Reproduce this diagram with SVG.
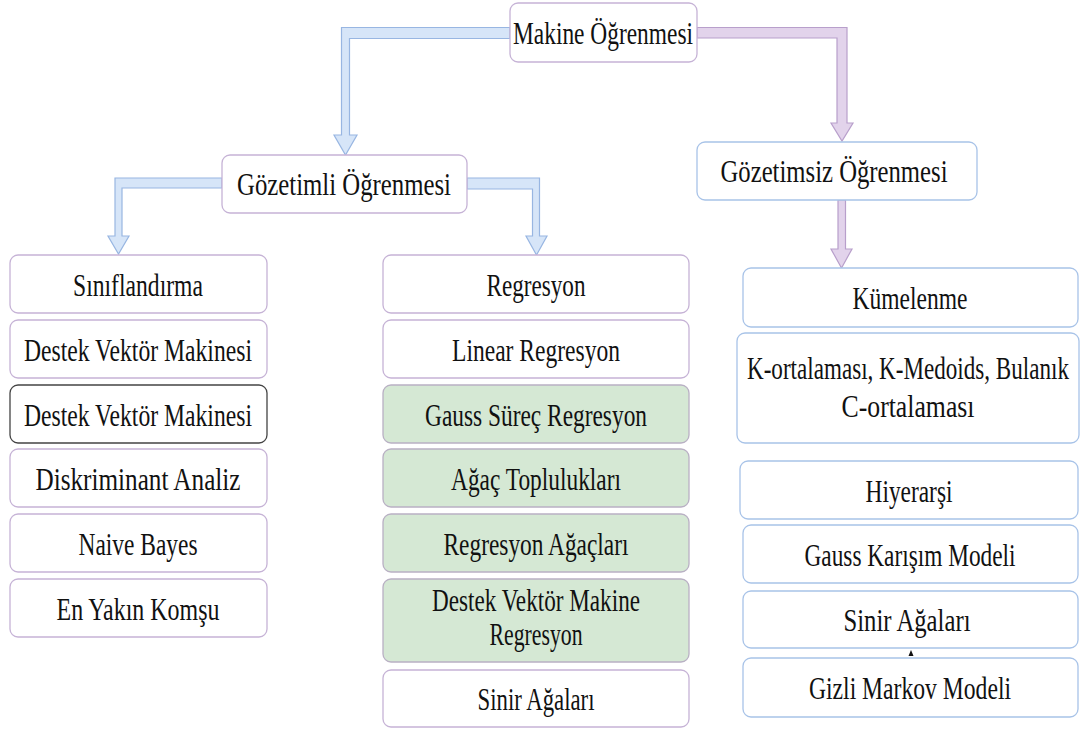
<svg xmlns="http://www.w3.org/2000/svg" width="1084" height="729" viewBox="0 0 1084 729">
<style>
.bp{fill:#fff;stroke:#c6b3d6;stroke-width:1.3}
.bb{fill:#fff;stroke:#a8c3e8;stroke-width:1.3}
.bg{fill:#d5e8d4;stroke:#b9b0c4;stroke-width:1.3}
.bk{fill:#fff;stroke:#444;stroke-width:1.3}
.cb{fill:#d6e5f8;stroke:#98b6e2;stroke-width:1.2}
.cp{fill:#e2d3eb;stroke:#b89fcb;stroke-width:1.2}
text{font-family:"Liberation Serif","Times New Roman","DejaVu Serif",serif;font-size:32px;fill:#111;text-anchor:middle}
</style>
<rect width="1084" height="729" fill="#fff"/>
<g id="connectors">
<polygon class="cb" points="510,27.5 341.5,27.5 341.5,135 334,135 345.5,155 357,135 349.5,135 349.5,38.5 510,38.5"/>
<polygon class="cp" points="697,27.5 847,27.5 847,123 853,123 842,141 831,123 837,123 837,38 697,38"/>
<polygon class="cb" points="222,178 115,178 115,236 108,236 118.5,254 129,236 122,236 122,188 222,188"/>
<polygon class="cb" points="467,178 539.5,178 539.5,236 547,236 536.5,255 526,236 532.5,236 532.5,189 467,189"/>
<polygon class="cp" points="838,200 845.5,200 845.5,249 852,249 841.5,268 831,249 838,249"/>
<polygon fill="#111" points="911,650 908.5,656 913.5,656"/>
</g>
<g id="makine"><rect class="bp" x="510" y="3" width="187" height="59" rx="8"/><text x="603" y="44" font-size="33" textLength="180" lengthAdjust="spacingAndGlyphs">Makine Öğrenmesi</text></g>
<g id="gozetimli"><rect class="bp" x="222" y="155" width="245" height="58" rx="8"/><text x="344" y="195" textLength="214" lengthAdjust="spacingAndGlyphs">Gözetimli Öğrenmesi</text></g>
<g id="gozetimsiz"><rect class="bb" x="697" y="142" width="280" height="58" rx="8"/><text x="834" y="182" textLength="227" lengthAdjust="spacingAndGlyphs">Gözetimsiz Öğrenmesi</text></g>

<g id="siniflandirma"><rect class="bp" x="10" y="255" width="257" height="58" rx="8"/><text x="138" y="296" textLength="130" lengthAdjust="spacingAndGlyphs">Sınıflandırma</text></g>
<g id="destek1"><rect class="bp" x="10" y="320" width="257" height="58" rx="8"/><text x="138" y="361" textLength="228" lengthAdjust="spacingAndGlyphs">Destek Vektör Makinesi</text></g>
<g id="destek2"><rect class="bk" x="10" y="385" width="257" height="58" rx="8"/><text x="138" y="426" textLength="228" lengthAdjust="spacingAndGlyphs">Destek Vektör Makinesi</text></g>
<g id="diskriminant"><rect class="bp" x="10" y="449" width="257" height="58" rx="8"/><text x="138" y="490" textLength="205" lengthAdjust="spacingAndGlyphs">Diskriminant Analiz</text></g>
<g id="naive"><rect class="bp" x="10" y="514" width="257" height="58" rx="8"/><text x="138" y="555" textLength="119" lengthAdjust="spacingAndGlyphs">Naive Bayes</text></g>
<g id="enyakin"><rect class="bp" x="10" y="579" width="257" height="58" rx="8"/><text x="138" y="620" textLength="163" lengthAdjust="spacingAndGlyphs">En Yakın Komşu</text></g>

<g id="regresyon"><rect class="bp" x="383" y="255" width="306" height="58" rx="8"/><text x="536" y="296" textLength="99" lengthAdjust="spacingAndGlyphs">Regresyon</text></g>
<g id="linear"><rect class="bp" x="383" y="320" width="306" height="58" rx="8"/><text x="536" y="361" textLength="168" lengthAdjust="spacingAndGlyphs">Linear Regresyon</text></g>
<g id="gauss"><rect class="bg" x="383" y="385" width="306" height="58" rx="8"/><text x="536" y="426" textLength="222" lengthAdjust="spacingAndGlyphs">Gauss Süreç Regresyon</text></g>
<g id="agac"><rect class="bg" x="383" y="449" width="306" height="58" rx="8"/><text x="536" y="490" textLength="170" lengthAdjust="spacingAndGlyphs">Ağaç Toplulukları</text></g>
<g id="regagac"><rect class="bg" x="383" y="514" width="306" height="58" rx="8"/><text x="536" y="555" textLength="185" lengthAdjust="spacingAndGlyphs">Regresyon Ağaçları</text></g>
<g id="dvmr"><rect class="bg" x="383" y="579" width="306" height="83" rx="8"/><text x="536" y="611" textLength="208" lengthAdjust="spacingAndGlyphs">Destek Vektör Makine</text><text x="536" y="645" textLength="93" lengthAdjust="spacingAndGlyphs">Regresyon</text></g>
<g id="sinir1"><rect class="bp" x="383" y="670" width="306" height="57" rx="8"/><text x="536" y="710" textLength="117" lengthAdjust="spacingAndGlyphs">Sinir Ağaları</text></g>

<g id="kumelenme"><rect class="bb" x="743" y="268" width="335" height="59" rx="8"/><text x="910" y="309" textLength="115" lengthAdjust="spacingAndGlyphs">Kümelenme</text></g>
<g id="kortalama"><rect class="bb" x="737" y="333" width="342" height="110" rx="8"/><text x="908" y="379" textLength="322" lengthAdjust="spacingAndGlyphs">K-ortalaması, K-Medoids, Bulanık</text><text x="908" y="417" textLength="133" lengthAdjust="spacingAndGlyphs">C-ortalaması</text></g>
<g id="hiyerarsi"><rect class="bb" x="740" y="461" width="338" height="58" rx="8"/><text x="909" y="502" textLength="87" lengthAdjust="spacingAndGlyphs">Hiyerarşi</text></g>
<g id="gkm"><rect class="bb" x="743" y="525" width="335" height="58" rx="8"/><text x="910" y="566" textLength="211" lengthAdjust="spacingAndGlyphs">Gauss Karışım Modeli</text></g>
<g id="sinir2"><rect class="bb" x="743" y="591" width="335" height="57" rx="8"/><text x="907" y="631" textLength="127" lengthAdjust="spacingAndGlyphs">Sinir Ağaları</text></g>
<g id="gizli"><rect class="bb" x="743" y="658" width="335" height="59" rx="8"/><text x="910" y="699" textLength="202" lengthAdjust="spacingAndGlyphs">Gizli Markov Modeli</text></g>
</svg>
